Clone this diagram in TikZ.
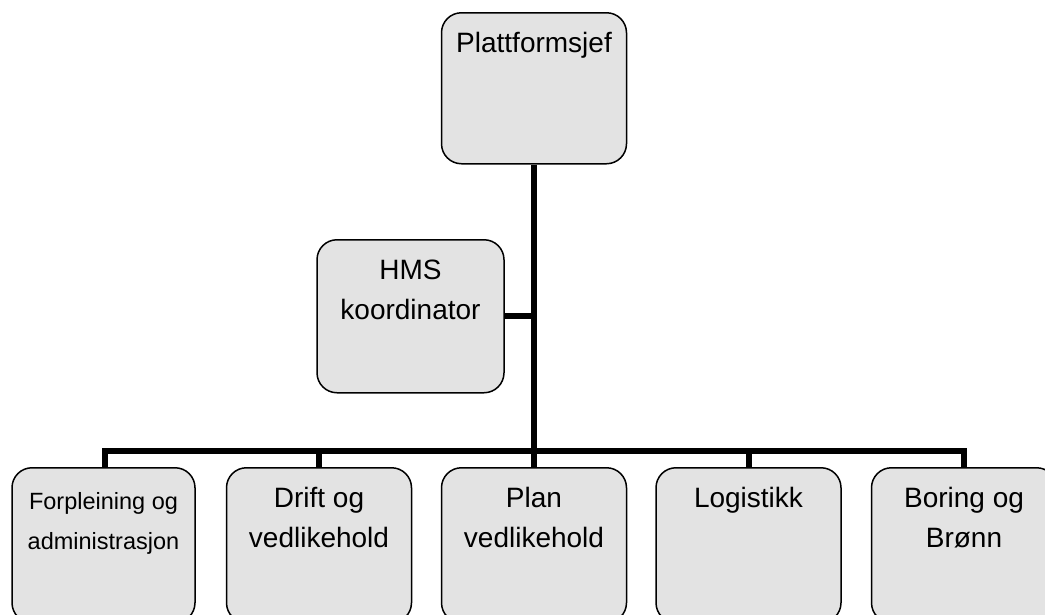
\documentclass[tikz,border=0pt]{standalone}
\usepackage{fontspec}
\setmainfont{Liberation Sans}
\begin{document}
\begin{tikzpicture}[x=1pt,y=-1pt,
  unit/.style={draw=black, line width=1.5pt, fill=boxgray, rounded corners=20pt,
    minimum width=185pt, inner sep=0pt, anchor=north},
  caption/.style={anchor=north, inner sep=0pt, yshift=-20.5pt, align=center,
    font=\fontsize{28}{40}\selectfont},
  smallcaption/.style={anchor=north, inner sep=0pt, yshift=-25pt, align=center,
    font=\fontsize{23.5}{40}\selectfont},
  link/.style={draw=black, line width=6pt, line join=miter}]
\definecolor{boxgray}{RGB}{227,227,227}
\useasboundingbox (0,0) rectangle (1045,614);
\clip (0,0) rectangle (1045,614);

% head of the platform
\node[unit, minimum height=151pt,
  label={[caption]north:Plattformsjef}] (chief) at (534,12) {};

% staff function beside the line
\node[unit, minimum width=187pt, minimum height=153pt,
  label={[caption]north:HMS\\koordinator}] (hse) at (410.5,239) {};

% departments
\node[unit, minimum width=183pt, minimum height=155pt,
  label={[smallcaption]north:Forpleining og\\administrasjon}] (d1) at (103.5,467) {};
\node[unit, minimum height=155pt,
  label={[caption]north:Drift og\\vedlikehold}] (d2) at (319,467) {};
\node[unit, minimum height=155pt,
  label={[caption]north:Plan\\vedlikehold}] (d3) at (534,467) {};
\node[unit, minimum height=155pt,
  label={[caption]north:Logistikk}] (d4) at (748.5,467) {};
\node[unit, minimum height=155pt,
  label={[caption]north:Boring og\\Brønn}] (d5) at (964,467) {};

% reporting lines
\coordinate (bar) at (534,451);
\draw[link] (chief.south) -- (bar);
\draw[link] (hse.east) -- (hse.east -| chief.south);
\draw[link] ([xshift=1.5pt]d1.north) -- ([xshift=1.5pt]d1.north |- bar) -- (d5.north |- bar) -- (d5.north);
\draw[link] (d2.north) -- (d2.north |- bar);
\draw[link] (d3.north) -- (d3.north |- bar);
\draw[link] (d4.north) -- (d4.north |- bar);
\end{tikzpicture}
\end{document}
